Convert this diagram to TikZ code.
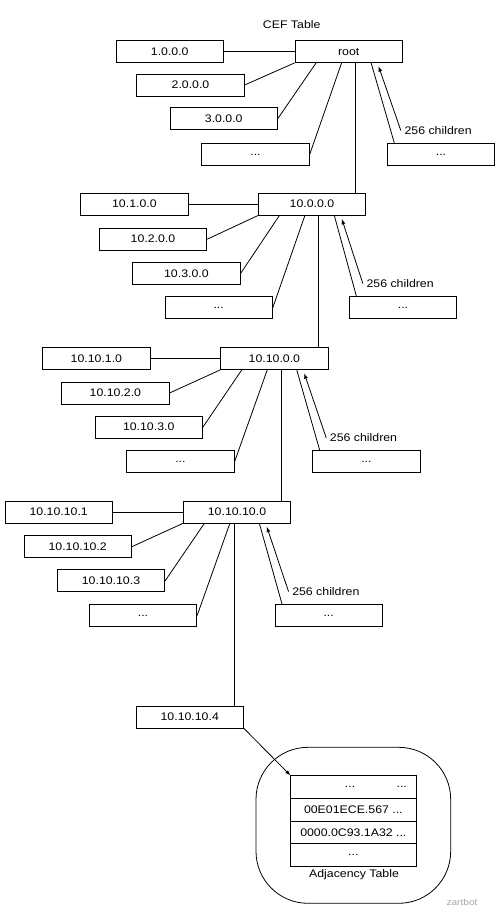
\documentclass[tikz,border=0pt]{standalone}
\usepackage{fontspec}
\setmainfont{Liberation Sans}[FakeStretch=1.12]
\begin{document}
\begin{tikzpicture}[>=latex,x=1pt,y=-1pt,line width=0.8pt,
  every node/.style={font=\fontsize{11}{13}\selectfont},
  entry/.style={draw,minimum width=107.5pt,minimum height=22pt,inner sep=0pt},
  adjrow/.style={draw,minimum width=125.3pt,minimum height=22.6pt,inner sep=0pt}]
\useasboundingbox (0,0) rectangle (500,923);
\node (title) at (291.7,25) {CEF Table};
% level 1
\node[entry] (root) at (348.75,51.5) {root};
\node[entry] (a1) at (169.75,51.5) {1.0.0.0};
\node[entry] (a2) at (190.5,85) {2.0.0.0};
\node[entry] (a3) at (223.75,118.5) {3.0.0.0};
\node[entry] (a4) at (255.5,154.5) {...};
\node[entry] (ar) at (441,154.5) {...};
\draw (a1)--(root);
\draw (a2.east)--(root.south west);
\draw (a3.east)--([xshift=21.5pt]root.south west);
\draw (a4.east)--([xshift=47pt]root.south west);
\draw ([xshift=7.5pt]ar.north west)--([xshift=76.5pt]root.south west);
\draw[<-] ([shift={(84pt,-3.5pt)}]root.south west)--([shift={(14pt,12.5pt)}]ar.north west)node[right]{256 children};
% level 2
\node[entry] (b) at (312,204.2) {10.0.0.0};
\node[entry] (b1) at (134.4,204.2) {10.1.0.0};
\node[entry] (b2) at (153,239.2) {10.2.0.0};
\node[entry] (b3) at (186.4,273.5) {10.3.0.0};
\node[entry] (b4) at (218.7,307.5) {...};
\node[entry] (br) at (403,307.5) {...};
\draw ([xshift=61pt]root.south west) coordinate (t1)--(t1|-b.north);
\draw (b1)--(b);
\draw (b2.east)--(b.south west);
\draw (b3.east)--([xshift=21.5pt]b.south west);
\draw (b4.east)--([xshift=47pt]b.south west);
\draw ([xshift=7.5pt]br.north west)--([xshift=76.5pt]b.south west);
\draw[<-] ([shift={(84pt,-3.5pt)}]b.south west)--([shift={(14pt,12.5pt)}]br.north west)node[right]{256 children};
% level 3
\node[entry] (c) at (274.4,358.5) {10.10.0.0};
\node[entry] (c1) at (96.4,358.5) {10.10.1.0};
\node[entry] (c2) at (115.4,393) {10.10.2.0};
\node[entry] (c3) at (148.7,427.2) {10.10.3.0};
\node[entry] (c4) at (180.4,461.8) {...};
\node[entry] (cr) at (366.4,461.8) {...};
\draw ([xshift=61pt]b.south west) coordinate (t2)--(t2|-c.north);
\draw (c1)--(c);
\draw (c2.east)--(c.south west);
\draw (c3.east)--([xshift=21.5pt]c.south west);
\draw (c4.east)--([xshift=47pt]c.south west);
\draw ([xshift=7.5pt]cr.north west)--([xshift=76.5pt]c.south west);
\draw[<-] ([shift={(84pt,-3.5pt)}]c.south west)--([shift={(14pt,12.5pt)}]cr.north west)node[right]{256 children};
% level 4
\node[entry] (d) at (237,512) {10.10.10.0};
\node[entry] (d1) at (58.7,512) {10.10.10.1};
\node[entry] (d2) at (77.7,546.7) {10.10.10.2};
\node[entry] (d3) at (111,580.8) {10.10.10.3};
\node[entry] (d4) at (143,615.5) {...};
\node[entry] (dr) at (328.7,615.5) {...};
\draw ([xshift=61pt]c.south west) coordinate (t3)--(t3|-d.north);
\draw (d1)--(d);
\draw (d2.east)--(d.south west);
\draw (d3.east)--([xshift=21.5pt]d.south west);
\draw (d4.east)--([xshift=47pt]d.south west);
\draw ([xshift=7.5pt]dr.north west)--([xshift=76.5pt]d.south west);
\draw[<-] ([shift={(84pt,-3.5pt)}]d.south west)--([shift={(14pt,12.5pt)}]dr.north west)node[right]{256 children};
% host entry
\node[entry] (e) at (189.75,717) {10.10.10.4};
\draw ([xshift=52pt]d.south west) coordinate (t4)--(t4|-e.north);
% adjacency table
\draw[rounded corners=52pt] (256,747.3) rectangle (450.7,903.3);
\node[adjrow] (adj1) at (353.35,787) {};
\node[adjrow] (adj2) at (353.35,809.7) {00E01ECE.567 ...};
\node[adjrow] (adj3) at (353.35,832.5) {0000.0C93.1A32 ...};
\node[adjrow] (adj4) at (353.35,855) {...};
\node (dots1) at ([xshift=-3.3pt]adj1) {...};
\node (dots2) at ([xshift=48.4pt]adj1) {...};
\node (adjlabel) at (354,875) {Adjacency Table};
\draw[->] (e.south east)--(adj1.north west);
\node[gray!70,font=\fontsize{9}{10}\selectfont] (mark) at (462,902) {zartbot};
\end{tikzpicture}
\end{document}
